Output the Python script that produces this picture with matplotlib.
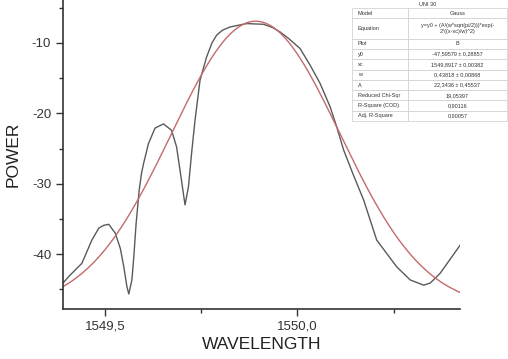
import numpy as np
import matplotlib
matplotlib.use("Agg")
import matplotlib.pyplot as plt
from matplotlib.ticker import FuncFormatter, MultipleLocator

plt.rcParams["font.family"] = ["Liberation Sans", "DejaVu Sans"]

wl = [1549.391, 1549.409, 1549.440, 1549.466, 1549.484, 1549.497, 1549.510, 1549.527,
      1549.540, 1549.549, 1549.557, 1549.562, 1549.570, 1549.575, 1549.581, 1549.589,
      1549.595, 1549.600, 1549.613, 1549.630, 1549.652, 1549.673, 1549.686, 1549.695,
      1549.708, 1549.717, 1549.725, 1549.734, 1549.747, 1549.764, 1549.778, 1549.790,
      1549.805, 1549.825, 1549.868, 1549.912, 1549.935, 1549.955, 1549.978, 1550.007,
      1550.033, 1550.059, 1550.085, 1550.102, 1550.120, 1550.145, 1550.172, 1550.206,
      1550.232, 1550.258, 1550.275, 1550.293, 1550.328, 1550.345, 1550.371, 1550.423]
power = [-44.1, -43.0, -41.3, -38.0, -36.3, -35.9, -35.76, -37.04,
         -39.2, -41.8, -44.6, -45.65, -43.66, -40.35, -35.6, -30.9,
         -28.5, -27.2, -24.3, -22.1, -21.5, -22.4, -24.75, -28.06,
         -33.0, -30.4, -25.7, -20.96, -15.3, -12.0, -10.0, -8.9,
         -8.2, -7.73, -7.25, -7.35, -7.8, -8.44, -9.4, -10.8,
         -13.16, -15.76, -19.08, -21.9, -25.2, -28.7, -32.3, -38.0,
         -39.9, -41.8, -42.7, -43.66, -44.4, -44.1, -42.7, -38.7]

# Gauss fit parameters (from the table)
y0 = -47.59579
xc = 1549.8917
w = 0.43818
A = 22.3436

table_rows = [
    ["Model", "Gauss"],
    ["Equation", "y=y0 + (A/(w*sqrt(pi/2)))*exp(-\n2*((x-xc)/w)^2)"],
    ["Plot", "B"],
    ["y0", "-47,59579 \u00b1 0,28857"],
    ["xc", "1549,8917 \u00b1 0,00382"],
    ["w", "0,43818 \u00b1 0,00868"],
    ["A", "22,3436 \u00b1 0,45537"],
    ["Reduced Chi-Sqr", "19,05397"],
    ["R-Square (COD)", "0,90116"],
    ["Adj. R-Square", "0,90057"],
]

fig = plt.figure(figsize=(5.08, 3.59), dpi=100)
ax = fig.add_axes([0.124, 0.139, 0.782, 0.861])

xf = np.linspace(1549.391, 1550.423, 400)
yf = y0 + A / (w * np.sqrt(np.pi / 2)) * np.exp(-2 * ((xf - xc) / w) ** 2)

ax.plot(wl, power, color="#5a5a5a", lw=1.0)
ax.plot(xf, yf, color="#c46a6a", lw=1.0)

ax.set_xlim(1549.391, 1550.423)
ax.set_ylim(-47.8, -3.9)
ax.xaxis.set_major_locator(MultipleLocator(0.5))
ax.xaxis.set_minor_locator(MultipleLocator(0.25))
ax.yaxis.set_major_locator(MultipleLocator(10))
ax.yaxis.set_minor_locator(MultipleLocator(5))
ax.xaxis.set_major_formatter(FuncFormatter(lambda v, p: f"{v:.1f}".replace(".", ",")))
ax.yaxis.set_major_formatter(FuncFormatter(lambda v, p: f"{v:.0f}"))
ax.tick_params(which="major", direction="out", length=5, width=1, labelsize=9.5, colors="#333333")
ax.tick_params(which="minor", direction="out", length=3, width=1, colors="#333333")
for s in ["top", "right"]:
    ax.spines[s].set_visible(False)
for s in ["left", "bottom"]:
    ax.spines[s].set_color("#333333")
    ax.spines[s].set_linewidth(1.2)
ax.set_xlabel("WAVELENGTH", fontsize=12.5, color="#222222", labelpad=3)
ax.set_ylabel("POWER", fontsize=12.5, color="#222222", labelpad=8)

# fit results table
tab = ax.table(cellText=table_rows, colWidths=[0.36, 0.64], cellLoc="left",
               bbox=[352 / 508, 1 - 121 / 359, 155 / 508, 113 / 359],
               transform=fig.transFigure)
tab.auto_set_font_size(False)
tab.set_fontsize(4)
for (r, c), cell in tab.get_celld().items():
    cell.set_edgecolor("#cccccc")
    cell.set_linewidth(0.5)
    cell.set_facecolor("white")
    cell.get_text().set_color("#333333")
    if c == 1:
        cell.get_text().set_ha("center")
        cell._loc = "center"
for c in range(2):
    tab[1, c].set_height(tab[0, c].get_height() * 2)
fig.text(428 / 508, 1 - 4 / 359, "UNI 30", fontsize=4, ha="center", va="center", color="#333333")

fig.savefig("out.png", dpi=100)
